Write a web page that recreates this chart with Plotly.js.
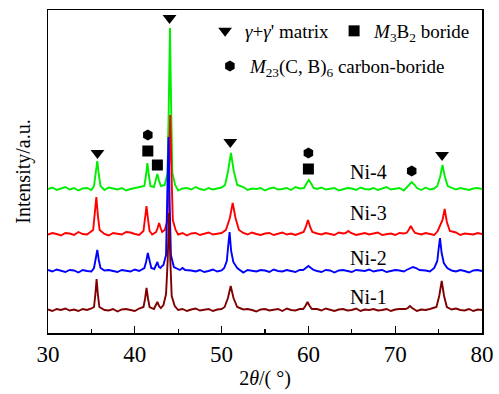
<!DOCTYPE html>
<html>
<head>
<meta charset="utf-8">
<script src="https://cdn.plot.ly/plotly-3.0.1.min.js"></script>
<style>html,body{margin:0;padding:0;background:#fff;}#chart{width:499px;height:394px;}</style>
</head>
<body>
<div id="chart"></div>
<script>
// ---- Data ----
var sampleNames = ['Ni-4', 'Ni-3', 'Ni-2', 'Ni-1'];
var sampleColors = ['#00ee00', '#ff0000', '#0000ff', '#7f0000'];
var sampleOffsets = [144, 99, 62, 23];          // vertical stacking offsets (a.u.)
var labelX = [66.9, 66.9, 66.9, 66.9];
var labelY = [161, 120, 75, 36];

// baseline sampling positions (2theta, deg)
var gridX = [30,30.5,31,31.5,32,32.5,33,33.5,34,34.5,
  35,35.5,36,36.5,37,37.5,38,38.5,39,39.5,
  40,40.5,41,41.5,42,42.5,43,43.5,44,44.5,
  45,45.5,46,46.5,47,47.5,48,48.5,49,49.5,
  50,50.5,51,51.5,52,52.5,53,53.5,54,54.5,
  55,55.5,56,56.5,57,57.5,58,58.5,59,59.5,
  60,60.5,61,61.5,62,62.5,63,63.5,64,64.5,
  65,65.5,66,66.5,67,67.5,68,68.5,69,69.5,
  70,70.5,71,71.5,72,72.5,73,73.5,74,74.5,
  75,75.5,76,76.5,77,77.5,78,78.5,79,79.5,
  80];

// baseline (background noise) intensities of each pattern
var base4 = [0,1.5,-1,0.5,2,-0.5,1,-1.5,0.5,1,
  -1,2,0,-1,1.5,0.5,-0.5,1,-1.5,0,
  1,2,-1,0.5,-0.5,1.5,0,-1,1,0.5,
  -1.5,0.5,1,-0.5,2,0,-1,1,-0.5,0.5,
  1.5,-1,0,1,-0.5,2,-1,0.5,0,1,
  -1.5,0.5,1.5,-0.5,0,1,-1,2,0.5,-0.5,
  1,-1,0,1.5,-0.5,0.5,1,-1.5,0,1,
  0.5,-1,1.5,0,-0.5,1,-1,0.5,2,-0.5,
  0,1,-1.5,0.5,1,0,-1,1.5,-0.5,0.5,
  1,-1,0,1.5,-0.5,1,0,-1,0.5,1,
  0];
var base3 = [-0.5,1,0,-1.5,1,0.5,-1,2,0,-0.5,
  1.5,-1,0.5,0,-1.5,1,0.5,-0.5,2,1.5,
  0,-1,1,0.5,-0.5,1,0,-1,1.5,0,
  -0.5,1,-1.5,0.5,1,-1,0,1.5,-0.5,0.5,
  1,-1,0.5,0,-1.5,1,-0.5,1.5,0,-1,
  0.5,1,-1,0,1.5,-0.5,0.5,-1,1,0,
  -1.5,1,0.5,-0.5,1,0,-1,1.5,0.5,-0.5,
  1,-1,0,1,-0.5,0.5,1.5,-1,0,0.5,
  -1,1,0.5,-1.5,0,1,-0.5,1,0,-1,
  0.5,1,-0.5,0,1.5,-1,0.5,0,-0.5,1,
  0];
var base2 = [1,-0.5,1.5,0,-1,1,0.5,-1.5,1,0,
  -0.5,1.5,-1,0.5,1,0,-1,1,0.5,-0.5,
  1.5,0,-1,1,0.5,0,1,-1,0.5,1.5,
  0,-1.5,1,0.5,-0.5,1,-1,0,1.5,-0.5,
  0.5,1,-1,0.5,0,-1.5,1,0,-0.5,1,
  0.5,-1,1.5,0,-0.5,1,0,-1,1,0.5,
  -0.5,1.5,0,-1,1,0.5,-1.5,0.5,1,0,
  -1,1,0.5,0,1.5,-0.5,0.5,1,-1,0,
  1,0.5,-0.5,1.5,0,-1,1,0.5,-0.5,1,
  0,-1,1.5,0.5,-0.5,1,0,-1.5,0.5,1,
  0];
var base1 = [0.5,-1,1,0,1.5,-0.5,0.5,-1,1,0,
  1.5,-1,0.5,0,-0.5,1,-1.5,0.5,1,0,
  -1,1.5,0.5,-0.5,1,0,-1,1,1.5,-0.5,
  0,1,-1,0.5,1.5,-0.5,0,1,-1,0.5,
  1,-0.5,0,1.5,-1,0.5,1,0,-1.5,0.5,
  1,-0.5,0,1,-1,1.5,0,-0.5,1,0.5,
  -1,0,1,-0.5,1.5,0,-1,0.5,1,-0.5,
  0,1.5,-1,0.5,0,1,-0.5,0,1,-1,
  0.5,1,-0.5,0,1.5,-1,0.5,0,1,-0.5,
  0,1,-1,0.5,1.5,0,-0.5,1,-1,0.5,
  0];

// diffraction peak profiles (2theta, intensity)
var peak4X = [35.3,35.5,35.68,35.86,36.05,
  41.1,41.28,41.45,41.63,41.8,
  42.2,42.4,42.6,42.8,43.0,
  43.45,43.77,43.91,44.05,44.19,44.33,44.65,
  50.4,50.75,51.08,51.4,51.8,
  59.5,59.75,60.05,60.35,60.6,
  71.3,71.55,71.9,72.25,72.5,
  74.85,75.17,75.45,75.73,76.05];
var peak4Y = [3,14,28,14,3,
  3,13,26,13,3,
  2,8,15,8,3,
  4,16,80,161,80,16,4,
  4,18,36,18,4,
  1,5,9,5,1,
  1,4,7,4,1,
  3,12,24,12,3];

var peak3X = [35.2,35.39,35.57,35.75,35.95,
  41.0,41.18,41.35,41.53,41.7,
  42.45,42.63,42.8,42.98,43.15,
  43.45,43.78,43.93,44.08,44.23,44.38,44.7,
  50.5,50.95,51.28,51.6,52.0,
  59.45,59.7,59.95,60.2,60.45,
  64.3,64.6,64.9,
  71.3,71.55,71.8,72.05,72.3,
  74.9,75.2,75.45,75.7,75.95,76.3];
var peak3Y = [4,18,37,18,4,
  3,14,28,14,3,
  2,6,11,6,2,
  4,14,60,119,60,14,4,
  4,16,31,16,4,
  2,7,14,7,2,
  1,3,1,
  1,4,8,4,1,
  3,9,14,25,12,3];

var peak2X = [35.3,35.5,35.68,35.85,36.05,
  41.1,41.3,41.5,41.7,41.9,
  42.25,42.42,42.6,42.78,42.95,43.15,
  43.3,43.6,43.74,43.88,44.02,44.16,44.5,
  45.2,45.5,45.8,
  50.3,50.6,50.75,50.92,51.1,51.35,51.8,
  59.4,59.7,60.0,60.3,60.6,
  71.3,71.7,72.05,72.4,72.8,
  74.5,74.85,75.0,75.16,75.35,75.6,76.0];
var peak2Y = [3,11,21,11,3,
  3,9,18,9,3,
  2,5,9,4,3,5,
  6,16,67,134,67,16,4,
  1,3,1,
  3,10,24,39,20,9,3,
  1,3,5,3,1,
  1,3,4,3,1,
  3,10,22,33,18,8,3];

var peak1X = [35.3,35.45,35.6,35.75,35.92,
  41.0,41.18,41.35,41.53,41.7,
  42.2,42.4,42.6,42.8,43.0,
  43.3,43.6,43.79,43.94,44.09,44.25,44.6,
  50.35,50.73,51.05,51.37,51.8,
  59.4,59.65,59.9,60.15,60.4,
  71.2,71.45,71.7,71.95,72.2,
  74.75,75.07,75.36,75.63,75.95];
var peak1Y = [3,15,31,15,3,
  3,11,22,11,3,
  1,4,8,4,2,
  5,16,50,97,50,14,4,
  3,12,24,12,3,
  1,4,8,4,1,
  1,2,4,2,1,
  3,14,29,14,3];

// phase markers
var matrixX = [35.7, 44.0, 51.0, 75.4];
var matrixY = [180, 315, 191, 178];
var borideX = [41.5, 42.6, 60.0];
var borideY = [182, 168, 164];
var carbX = [41.5, 60.0, 71.9];
var carbY = [198, 180, 162];

// ---- Build traces ----
function merge(base, px, py, off) {
  var pts = [];
  var n = Math.min(gridX.length, base.length);
  for (var i = 0; i < n; i++) {
    var near = false;
    for (var j = 0; j < px.length; j++) {
      if (Math.abs(px[j] - gridX[i]) < 0.26) { near = true; break; }
    }
    if (!near) pts.push([gridX[i], base[i]]);
  }
  for (var k = 0; k < px.length; k++) pts.push([px[k], py[k]]);
  pts.sort(function(a, b) { return a[0] - b[0]; });
  return {x: pts.map(function(p){return p[0];}), y: pts.map(function(p){return p[1] + off;})};
}

var bases = [base4, base3, base2, base1];
var peaksX = [peak4X, peak3X, peak2X, peak1X];
var peaksY = [peak4Y, peak3Y, peak2Y, peak1Y];

var serif = 'Liberation Serif, Times New Roman, serif';
var traces = [];
for (var s = 0; s < 4; s++) {
  var d = merge(bases[s], peaksX[s], peaksY[s], sampleOffsets[s]);
  traces.push({
    x: d.x, y: d.y, type: 'scatter', mode: 'lines', name: sampleNames[s],
    line: {color: sampleColors[s], width: 1.9}, showlegend: false, hoverinfo: 'skip'
  });
}
traces.push({
  x: matrixX, y: matrixY, type: 'scatter', mode: 'markers',
  name: '<i>γ</i>+<i>γ</i>\' matrix',
  marker: {symbol: 'triangle-down', size: 12, color: '#000'}, legend: 'legend'
});
traces.push({
  x: borideX, y: borideY, type: 'scatter', mode: 'markers',
  name: '<i>M</i><sub>3</sub>B<sub>2</sub> boride',
  marker: {symbol: 'square', size: 11, color: '#000'}, legend: 'legend'
});
traces.push({
  x: carbX, y: carbY, type: 'scatter', mode: 'markers',
  name: '<i>M</i><sub>23</sub>(C, B)<sub>6</sub> carbon-boride',
  marker: {symbol: 'hexagon', size: 11, color: '#000'}, legend: 'legend2'
});

var annotations = [];
for (var a = 0; a < 4; a++) {
  annotations.push({
    x: labelX[a], y: labelY[a], xref: 'x', yref: 'y', text: sampleNames[a],
    showarrow: false, font: {family: serif, size: 20, color: '#000'}
  });
}

var layout = {
  width: 499, height: 394,
  margin: {l: 48, r: 17, t: 10, b: 61},
  paper_bgcolor: '#fff', plot_bgcolor: '#fff',
  font: {family: serif, color: '#000'},
  showlegend: true,
  xaxis: {
    range: [30, 80], dtick: 10, tick0: 30,
    ticks: 'inside', ticklen: 7, tickwidth: 1.3, tickcolor: '#000',
    minor: {dtick: 5, ticks: 'inside', ticklen: 4, tickwidth: 1.3, tickcolor: '#000'},
    showline: true, linecolor: '#000', linewidth: 1.5, mirror: true,
    showgrid: false, zeroline: false,
    tickfont: {family: serif, size: 23, color: '#000'},
    title: {text: '2<i>θ</i>/( °)', font: {family: serif, size: 20, color: '#000'}, standoff: 5}
  },
  yaxis: {
    range: [0, 323], showticklabels: false, ticks: '',
    showline: true, linecolor: '#000', linewidth: 1.5, mirror: true,
    showgrid: false, zeroline: false,
    title: {text: 'Intensity/a.u.', font: {family: serif, size: 20, color: '#000'}, standoff: 10}
  },
  legend: {
    orientation: 'h', x: 0.362, xanchor: 'left', y: 0.935, yanchor: 'middle',
    bgcolor: 'rgba(0,0,0,0)', borderwidth: 0,
    font: {family: serif, size: 19, color: '#000'},
    itemwidth: 30, tracegroupgap: 0
  },
  legend2: {
    orientation: 'h', x: 0.373, xanchor: 'left', y: 0.826, yanchor: 'middle',
    bgcolor: 'rgba(0,0,0,0)', borderwidth: 0,
    font: {family: serif, size: 19, color: '#000'},
    itemwidth: 30
  },
  annotations: annotations
};

Plotly.newPlot('chart', traces, layout, {displayModeBar: false, staticPlot: true});
</script>
</body>
</html>
